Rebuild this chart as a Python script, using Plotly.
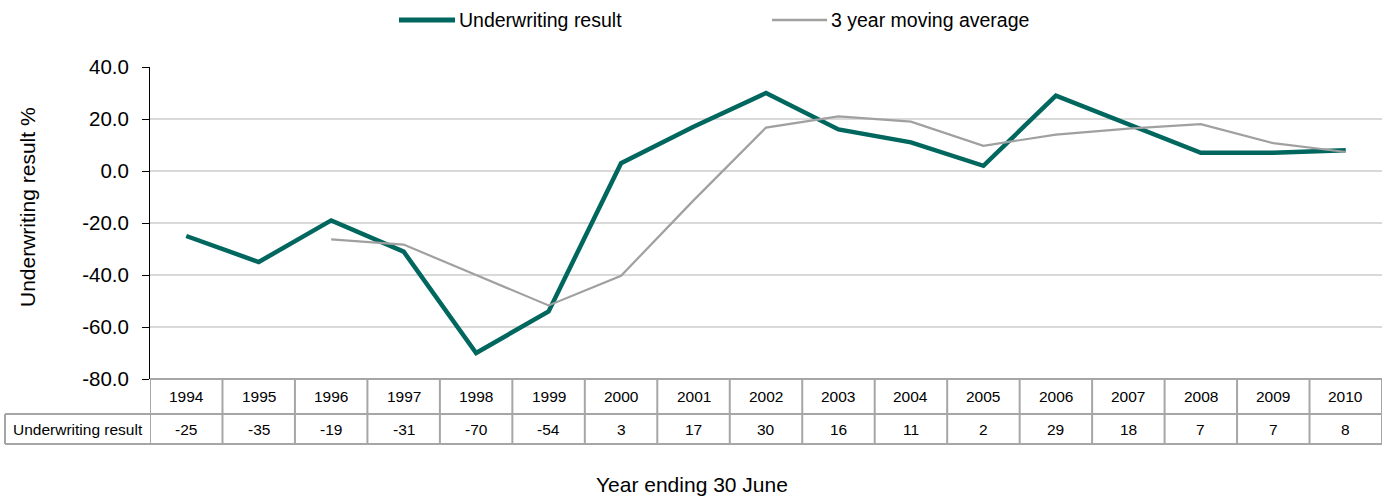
import plotly.graph_objects as go

years = ["1994", "1995", "1996", "1997", "1998", "1999", "2000", "2001", "2002",
         "2003", "2004", "2005", "2006", "2007", "2008", "2009", "2010"]
underwriting = [-25, -35, -19, -31, -70, -54, 3, 17, 30, 16, 11, 2, 29, 18, 7, 7, 8]
moving_avg = [None, None, -26.3, -28.3, -40.0, -51.7, -40.3, -11.3, 16.7, 21.0,
              19.0, 9.7, 14.0, 16.3, 18.0, 10.7, 7.3]
y_ticks = [40, 20, 0, -20, -40, -60, -80]
y_tick_labels = ["40.0", "20.0", "0.0", "-20.0", "-40.0", "-60.0", "-80.0"]
series_names = ["Underwriting result", "3 year moving average"]

FONT = "Liberation Sans, Arial, sans-serif"
TEAL = "#00675F"
GREY = "#A0A0A0"
BORDER = "#A6A6A6"

W, H = 1391, 497
ML, MR, MT, MB = 150, 9, 67, 118
PH = H - MT - MB
PW = W - ML - MR


def py(pix):
    return (H - MB - pix) / PH


def px(pix):
    return (pix - ML) / PW


xs = list(range(len(years)))

fig = go.Figure()
fig.add_trace(go.Scatter(x=xs, y=underwriting, mode="lines", name=series_names[0],
                         line=dict(color=TEAL, width=4.5), showlegend=False))
fig.add_trace(go.Scatter(x=xs, y=moving_avg, mode="lines", name=series_names[1],
                         line=dict(color=GREY, width=2.2), showlegend=False))

shapes = []
# zero line
shapes.append(dict(type="line", xref="paper", yref="y", x0=0, x1=1, y0=0, y1=0,
                   line=dict(color="#7F7F7F", width=1.8), layer="below"))
# table
y_top, y_mid, y_bot = 0, py(414), py(444)
label_left = px(5)
shapes.append(dict(type="line", xref="paper", yref="paper", x0=0, x1=1, y0=y_top, y1=y_top,
                   line=dict(color=BORDER, width=2)))
for yy in (y_mid, y_bot):
    shapes.append(dict(type="line", xref="paper", yref="paper", x0=label_left, x1=1, y0=yy, y1=yy,
                       line=dict(color=BORDER, width=2)))
shapes.append(dict(type="line", xref="paper", yref="paper", x0=label_left, x1=label_left,
                   y0=y_mid, y1=y_bot, line=dict(color=BORDER, width=2)))
for i in range(len(years) + 1):
    shapes.append(dict(type="line", xref="x", yref="paper", x0=i - 0.5, x1=i - 0.5,
                       y0=y_top, y1=y_bot, line=dict(color=BORDER, width=2)))

# manual legend
legend_items = [(series_names[0], TEAL, 5, 399, 455), (series_names[1], GREY, 2.5, 772, 827)]
annotations = []
for name, col, wdt, x0, x1 in legend_items:
    shapes.append(dict(type="line", xref="paper", yref="paper", x0=px(x0), x1=px(x1),
                       y0=py(20), y1=py(20), line=dict(color=col, width=wdt)))
    annotations.append(dict(x=px(x1 + 2), y=py(20), xref="paper", yref="paper", text=name,
                            showarrow=False, xanchor="left", yanchor="middle",
                            font=dict(family=FONT, size=19.5, color="#000")))

TF = dict(family=FONT, size=15.5, color="#000")
for i, (yr, v) in enumerate(zip(years, underwriting)):
    annotations.append(dict(x=i, y=py(396.5), xref="x", yref="paper", text=yr, showarrow=False,
                            font=TF, xanchor="center", yanchor="middle"))
    annotations.append(dict(x=i, y=py(429), xref="x", yref="paper", text=str(v), showarrow=False,
                            font=TF, xanchor="center", yanchor="middle"))
annotations.append(dict(x=label_left / 2, y=py(429), xref="paper", yref="paper",
                        text=series_names[0], showarrow=False, font=TF,
                        xanchor="center", yanchor="middle"))
annotations.append(dict(x=px(692), y=py(484), xref="paper", yref="paper",
                        text="Year ending 30 June", showarrow=False,
                        font=dict(family=FONT, size=21, color="#000"),
                        xanchor="center", yanchor="middle"))
annotations.append(dict(x=px(27), y=py(207), xref="paper", yref="paper",
                        text="Underwriting result %", showarrow=False, textangle=-90,
                        font=dict(family=FONT, size=21, color="#000"),
                        xanchor="center", yanchor="middle"))

fig.update_layout(
    width=W, height=H,
    margin=dict(l=ML, r=MR, t=MT, b=MB, autoexpand=False),
    paper_bgcolor="white", plot_bgcolor="white",
    font=dict(family=FONT, color="#000"),
    showlegend=False,
    xaxis=dict(range=[-0.5, len(years) - 0.5], showticklabels=False, showgrid=False,
               zeroline=False, showline=False, ticks=""),
    yaxis=dict(range=[-80, 40], tickvals=y_ticks, ticktext=y_tick_labels,
               showgrid=True, gridcolor="#D9D9D9", gridwidth=1.8,
               zeroline=False, showline=True, linecolor="#000", linewidth=1,
               ticks="outside", ticklen=7, tickcolor="#000",
               tickfont=dict(family=FONT, size=20.5, color="#000"), ticklabelstandoff=9),
    shapes=shapes,
    annotations=annotations,
)

fig.write_html("out.html")
